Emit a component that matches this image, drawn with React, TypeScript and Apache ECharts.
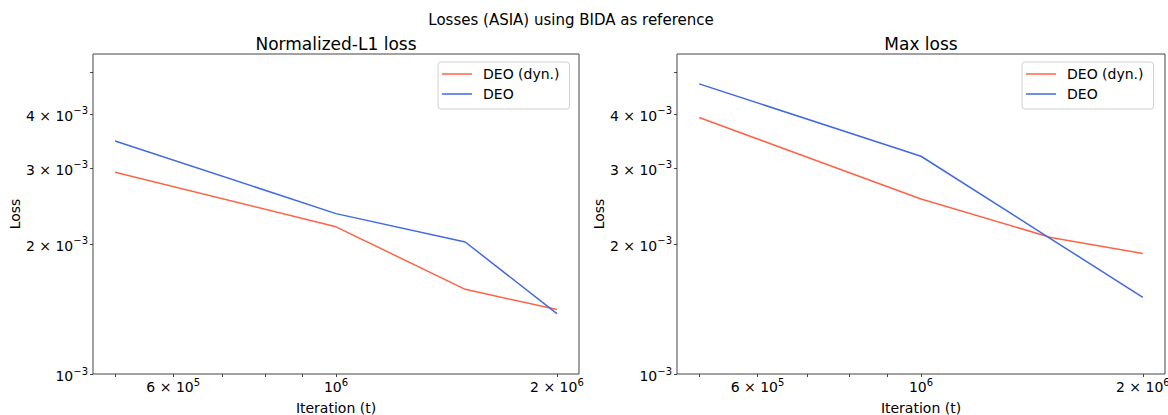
import React, { useEffect, useRef } from "react";
import * as echarts from "echarts";

// ---- data ----
const iterations = [5e5, 1e6, 1.5e6, 2e6];
const l1DeoDyn = [2.93e-3, 2.19e-3, 1.57e-3, 1.41e-3];
const l1Deo = [3.46e-3, 2.35e-3, 2.02e-3, 1.38e-3];
const maxDeoDyn = [3.92e-3, 2.54e-3, 2.07e-3, 1.9e-3];
const maxDeo = [4.69e-3, 3.19e-3, 2.055e-3, 1.505e-3];

const seriesNames = ["DEO (dyn.)", "DEO"];
const seriesColors = ["#ff6347", "#4169e1"];
const panelTitles = ["Normalized-L1 loss", "Max loss"];
const suptitle = "Losses (ASIA) using BIDA as reference";
const xAxisTitle = "Iteration (t)";
const yAxisTitle = "Loss";

const xTickLabels = [6e5, 1e6, 2e6];
const xTicks = [5e5, 6e5, 7e5, 8e5, 9e5, 1e6, 2e6];
const yTickLabels = [1e-3, 2e-3, 3e-3, 4e-3];
const yTicks = [1e-3, 2e-3, 3e-3, 4e-3, 5e-3];
const yLimits = [1e-3, 5.5e-3];

const FONT = "DejaVu Sans";
const lg = (v: number) => Math.log10(v);

function sciLabel(v: number, list: number[]) {
  let best = list[0];
  for (const t of list) {
    if (Math.abs(lg(t) - v) < Math.abs(lg(best) - v)) best = t;
  }
  const e = Math.floor(lg(best) + 1e-9);
  const m = Math.round(best / Math.pow(10, e));
  const exp = e < 0 ? "\u2212" + -e : String(e);
  return m === 1 ? `{b|10}{s|${exp}}` : `{b|${m} × 10}{s|${exp}}`;
}

const rich = {
  b: { fontSize: 14, lineHeight: 20, fontFamily: FONT, color: "#000" },
  s: { fontSize: 10, lineHeight: 12, verticalAlign: "top", fontFamily: FONT, color: "#000" },
};

export default function App() {
  const ref = useRef<HTMLDivElement>(null);

  useEffect(() => {
    if (!ref.current) return;
    const chart = echarts.init(ref.current, undefined, { renderer: "svg" });

    const logX = iterations.map(lg);
    const xPad = (Math.max(...logX) - Math.min(...logX)) * 0.05;
    const xMin = Math.min(...logX) - xPad;
    const xMax = Math.max(...logX) + xPad;

    const grids = [
      { left: 93, top: 54, width: 486, height: 320 },
      { left: 677, top: 54, width: 488, height: 320 },
    ];
    const panels = [
      [l1DeoDyn, l1Deo],
      [maxDeoDyn, maxDeo],
    ];

    const xAxes = grids.map((_, i) => ({
      type: "value",
      gridIndex: i,
      min: xMin,
      max: xMax,
      position: "bottom",
      axisLine: { show: false },
      splitLine: { show: false },
      axisTick: {
        show: true,
        customValues: xTicks.map(lg),
        length: 3,
        lineStyle: { color: "#444" },
      },
      axisLabel: {
        customValues: xTickLabels.map(lg),
        formatter: (v: number) => sciLabel(v, xTickLabels),
        margin: 3,
        rich,
      },
      name: xAxisTitle,
      nameLocation: "middle",
      nameGap: 27,
      nameTextStyle: { fontSize: 14, color: "#000", fontFamily: FONT },
    }));

    const yAxes = grids.map((_, i) => ({
      type: "value",
      gridIndex: i,
      min: lg(yLimits[0]),
      max: lg(yLimits[1]),
      position: "left",
      axisLine: { show: false },
      splitLine: { show: false },
      axisTick: {
        show: true,
        customValues: yTicks.map(lg),
        length: 3,
        lineStyle: { color: "#444" },
      },
      axisLabel: {
        customValues: yTickLabels.map(lg),
        formatter: (v: number) => sciLabel(v, yTickLabels),
        margin: 5,
        padding: [4, 0, 0, 0],
        rich,
      },
      name: yAxisTitle,
      nameLocation: "middle",
      nameGap: 70,
      nameTextStyle: { fontSize: 14, color: "#000", fontFamily: FONT },
    }));

    const series: any[] = [];
    panels.forEach((vals, i) => {
      vals.forEach((arr, k) => {
        series.push({
          type: "line",
          name: seriesNames[k],
          xAxisIndex: i,
          yAxisIndex: i,
          data: iterations.map((t, j) => [lg(t), lg(arr[j])]),
          symbol: "none",
          lineStyle: { width: 1.5, color: seriesColors[k] },
          itemStyle: { color: seriesColors[k] },
        });
      });
    });

    const legendLefts = [438, 1022];
    const legends = legendLefts.map((left) => ({
      data: seriesNames,
      left,
      top: 62,
      orient: "vertical",
      icon: "rect",
      itemWidth: 30,
      itemHeight: 1.5,
      itemGap: 6,
      padding: [5, 10, 8, 4],
      borderColor: "#d0d0d0",
      borderWidth: 1,
      borderRadius: 3,
      backgroundColor: "rgba(255,255,255,0.8)",
      selectedMode: false,
      textStyle: { fontSize: 14, color: "#000", fontFamily: FONT, padding: [0, 0, 0, 6] },
    }));

    const graphic = [
      {
        type: "text",
        x: 571,
        y: 20,
        style: {
          text: suptitle,
          fontSize: 15,
          fontFamily: FONT,
          fill: "#000",
          textAlign: "center",
          textVerticalAlign: "middle",
        },
      },
      ...grids.map((g, i) => ({
        type: "text",
        x: g.left + g.width / 2,
        y: 43.5,
        style: {
          text: panelTitles[i],
          fontSize: 17,
          fontFamily: FONT,
          fill: "#000",
          textAlign: "center",
          textVerticalAlign: "middle",
        },
      })),
    ];

    chart.setOption({
      animation: false,
      backgroundColor: "#fff",
      textStyle: { fontFamily: FONT },
      grid: grids.map((g) => ({
        ...g,
        show: true,
        borderColor: "#444",
        borderWidth: 1,
        backgroundColor: "transparent",
        containLabel: false,
        outerBoundsMode: "none",
      })),
      xAxis: xAxes,
      yAxis: yAxes,
      legend: legends,
      series,
      graphic,
    } as any);

    return () => chart.dispose();
  }, []);

  return (
    <div
      ref={ref}
      style={{ position: "fixed", left: 0, top: 0, width: 1168, height: 415, background: "#fff" }}
    />
  );
}
